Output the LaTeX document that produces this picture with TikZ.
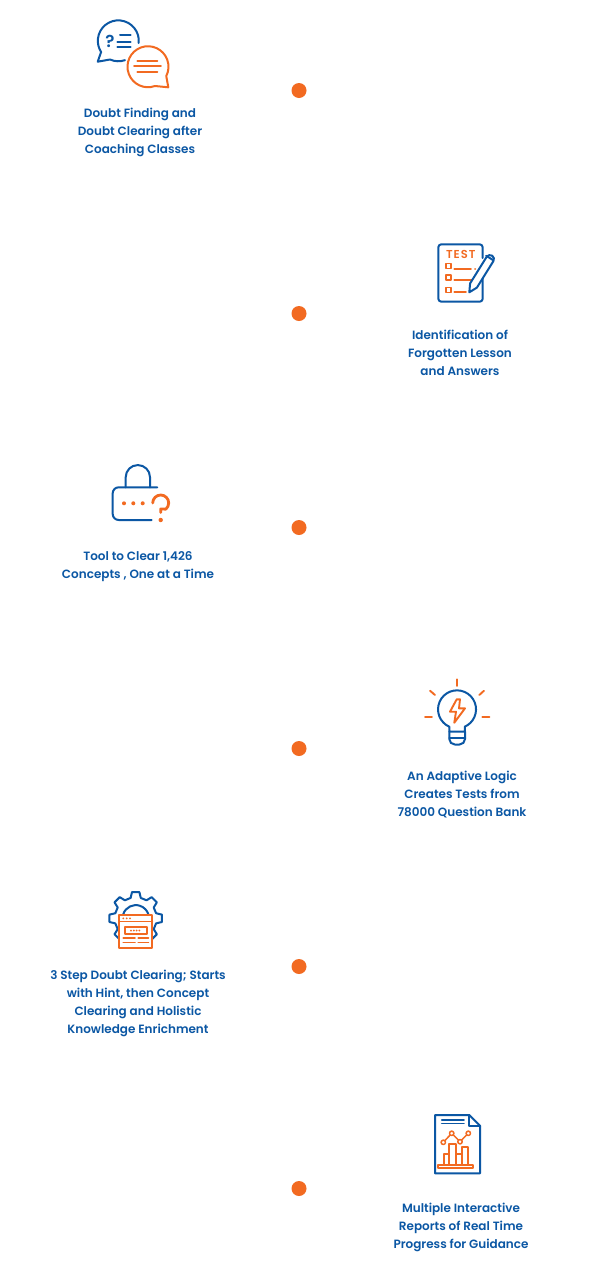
\documentclass[tikz,border=0pt]{standalone}
\usepackage{fontspec}
\usetikzlibrary{calc}
\setmainfont{Poppins}[BoldFont={Poppins SemiBold}]
\definecolor{iconblue}{HTML}{0B57A4}
\definecolor{iconorange}{HTML}{F26A21}
\tikzset{
    stepdot/.style={circle,fill=iconorange,minimum size=15pt,inner sep=0pt},
    steplabel/.style={align=center,text=iconblue,font=\fontsize{12}{18}\selectfont\bfseries},
    blueline/.style={draw=iconblue,line width=2pt,line cap=round,line join=round},
    orangeline/.style={draw=iconorange,line width=1.9pt,line cap=round,line join=round}
}

\begin{document}
\begin{tikzpicture}[x=1pt,y=-1pt]
    \useasboundingbox (0,0) rectangle (600,1280);
    \fill[white] (0,0) rectangle (600,1280);

    % dots
    \node[stepdot] (dota) at (299,90.5) {};
    \node[stepdot] (dotb) at (299,313.5) {};
    \node[stepdot] (dotc) at (299,527.5) {};
    \node[stepdot] (dotd) at (299,748.5) {};
    \node[stepdot] (dote) at (299,966.5) {};
    \node[stepdot] (dotf) at (299,1188.5) {};

    % labels
    \node[steplabel] (doubt) at (140,132) {Doubt Finding and\\Doubt Clearing after\\Coaching Classes};
    \node[steplabel] (lesson) at (460,352.5) {Identification of\\Forgotten Lesson\\and Answers};
    \node[steplabel] (concepts) at (138,566.5) {Tool to Clear 1,426\\Concepts , One at a Time};
    \node[steplabel] (logic) at (462,794.5) {An Adaptive Logic\\Creates Tests from\\78000 Question Bank};
    \node[steplabel] (hint) at (138,1003) {3 Step Doubt Clearing; Starts\\with Hint, then Concept\\Clearing and Holistic\\Knowledge Enrichment};
    \node[steplabel] (reports) at (461,1227) {Multiple Interactive\\Reports of Real Time\\Progress for Guidance};

    % speech bubbles
    \draw[blueline] (138.7,43) arc[start angle=-6,end angle=213,radius=20.5pt] -- (97.7,61.7) -- (110,59.5) arc[start angle=246,end angle=289,radius=20.5pt];
    \node[text=iconblue,font=\fontsize{17}{17}\selectfont\bfseries,inner sep=0pt] (qmark) at (110,41.5) {?};
    \draw[blueline] (120,35) -- (130.7,35);
    \draw[blueline] (117.3,41.5) -- (130.7,41.5);
    \draw[blueline] (117.3,47.3) -- (130.7,47.3);
    \draw[orangeline,line width=2pt] (155,86) arc[start angle=-70,end angle=-387,radius=20.5pt] -- (168.3,87.3) -- cycle;
    \draw[orangeline] (137.3,60.7) -- (157.3,60.7);
    \draw[orangeline] (134,66) -- (161,66);
    \draw[orangeline] (137.3,71.7) -- (157.3,71.7);

    % test sheet
    \draw[blueline] (482.7,258) -- (482.7,247.3) arc[start angle=0,end angle=90,radius=3pt] -- (441.3,244.3) arc[start angle=90,end angle=180,radius=3pt] -- (438.3,298.7) arc[start angle=180,end angle=270,radius=3pt] -- (479.7,301.7) arc[start angle=270,end angle=360,radius=3pt] -- (482.7,272);
    \node[text=iconorange,font=\fontsize{11.5}{11.5}\selectfont\bfseries,inner sep=0pt] (testword) at (460.7,254) {T\kern1pt E\kern1pt S\kern1pt T};
    \foreach \y in {266,277.7,290}
        \draw[orangeline] (445.8,\y-2.5) rectangle (450.8,\y+2.5);
    \draw[orangeline] (454.3,268.7) -- (471,268.7);
    \draw[orangeline] (475,268.7) -- (475.2,268.7);
    \draw[orangeline] (454.3,280.3) -- (472,280.3);
    \draw[orangeline] (454.3,292) -- (466,292);
    \draw[blueline,fill=white] (469.3,292.3) -- (470.1,283.4) -- (486.6,256.9) arc[start angle=148,end angle=-32,radius=4pt] -- (476.9,287.6) -- cycle;
    \draw[blueline] (486.2,255.8) -- (493,260);

    % padlock
    \draw[blueline] (125.7,487.3) -- (125.7,477.2) arc[start angle=180,end angle=0,radius=12.15pt] -- (150,487.3);
    \draw[blueline] (157.3,487.3) -- (118.7,487.3) arc[start angle=90,end angle=180,radius=6pt] -- (112.7,514) arc[start angle=180,end angle=270,radius=6pt] -- (151.7,520);
    \foreach \x in {124,133.3,142.7}
        \fill[iconorange] (\x,503.3) circle[radius=2pt];
    \draw[orangeline,line width=2.8pt] (152.7,503) arc[start angle=180,end angle=-50,radius=8pt] -- (160.7,509) -- (160.7,512.5);
    \fill[iconorange] (160.7,520) circle[radius=2.2pt];

    % bulb
    \draw[blueline] (449.3,731.7) -- (449.3,726.7) arc[start angle=246,end angle=-66,radius=19pt] -- (465,731.7) -- cycle;
    \draw[blueline] (449.3,731.7) -- (449.3,739) arc[start angle=180,end angle=270,radius=5.5pt] -- (459.5,744.5) arc[start angle=270,end angle=360,radius=5.5pt] -- (465,731.7);
    \draw[blueline] (449.3,737.7) -- (465,737.7);
    \draw[orangeline] (457,679.3) -- (457,686);
    \draw[orangeline] (430,690.7) -- (435,695);
    \draw[orangeline] (484,690.7) -- (479.3,695);
    \draw[orangeline] (425,717.3) -- (432,717.3);
    \draw[orangeline] (482.3,717.3) -- (489.3,717.3);
    \draw[orangeline] (456.7,699.3) -- (450,711.7) -- (456,711.7) -- (454.3,722.7) -- (465,708.3) -- (459,708.3) -- (460,699.3) -- cycle;

    % gear and window
    \draw[blueline] ($(135.7,918.3)+(-14:21pt)$)
        \foreach \a in {0,45,...,315} { -- ($(135.7,918.3)+(\a-14:21pt)$) -- ($(135.7,918.3)+(\a-8:26.5pt)$) -- ($(135.7,918.3)+(\a+8:26.5pt)$) -- ($(135.7,918.3)+(\a+14:21pt)$) } -- cycle;
    \draw[blueline] (123.3,914) arc[start angle=161,end angle=19,radius=13.2pt];
    \draw[orangeline,fill=white] (119.3,915) rectangle (152.3,947.7);
    \draw[orangeline] (119.3,921.5) -- (152.3,921.5);
    \foreach \x in {123.3,126.7,130}
        \fill[iconorange] (\x,918.3) circle[radius=1pt];
    \draw[orangeline] (125,926.7) rectangle (147.3,934.3);
    \foreach \x in {131,133.8,136.6,139.4}
        \fill[iconorange] (\x,930.5) circle[radius=1pt];
    \draw[orangeline] (123.3,938) -- (135,938);
    \draw[orangeline] (138.3,938) -- (148.3,938);
    \draw[orangeline] (123.3,942.5) -- (135,942.5);
    \draw[orangeline] (138.3,942.5) -- (148.3,942.5);

    % report
    \draw[blueline] (469.3,1115) -- (435,1115) -- (435,1173.3) -- (480,1173.3) -- (480,1125.7) -- cycle;
    \draw[blueline] (469.3,1115) -- (469.3,1125.7) -- (480,1125.7);
    \draw[blueline,line width=1.5pt] (441.7,1120) -- (464,1120);
    \draw[blueline,line width=1.5pt] (441.7,1123.5) -- (464,1123.5);
    \draw[orangeline,line width=1.5pt] (443.3,1142.3) -- (451.7,1133.3) -- (460,1141.7) -- (468.3,1133.3);
    \foreach \x/\y in {443.3/1142.3,451.7/1133.3,460/1141.7,468.3/1133.3}
        \draw[orangeline,line width=1.5pt,fill=white] (\x,\y) circle[radius=2.2pt];
    \draw[orangeline] (444,1165) rectangle (449.3,1154.3);
    \draw[orangeline] (449.3,1165) rectangle (456,1144.3);
    \draw[orangeline] (456,1165) rectangle (461.7,1154.3);
    \draw[orangeline] (461.7,1165) rectangle (467.7,1146.7);
    \draw[orangeline] (438.3,1165) rectangle (473.3,1168.3);
\end{tikzpicture}
\end{document}
